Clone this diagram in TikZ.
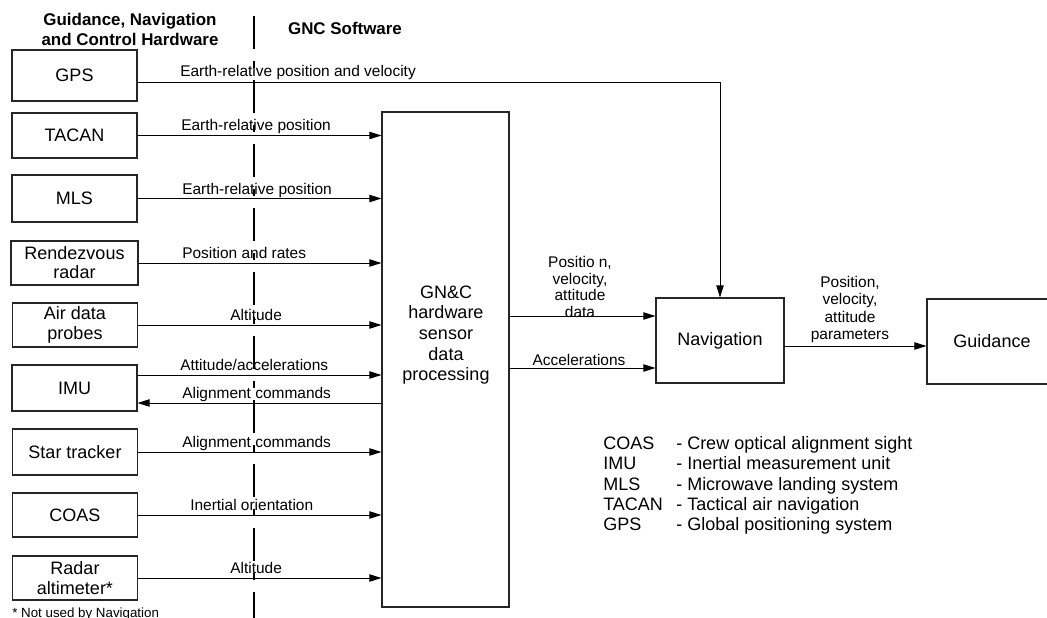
\documentclass[tikz,border=0pt]{standalone}
\usepackage{fontspec}
\setmainfont{Liberation Sans}
\usetikzlibrary{arrows.meta,calc}
\begin{document}
\begin{tikzpicture}[x=0.75pt,y=-0.75pt,
  box/.style={draw=black!85, line width=0.8pt, inner sep=0pt, align=center,
    minimum width=93.75pt, font=\fontsize{13.5}{15}\selectfont},
  arr/.style={line width=0.75pt, -{Triangle[length=9pt,width=5.5pt]}},
  lbl/.style={inner sep=0pt, anchor=base west, font=\fontsize{11.6}{12.4}\selectfont},
  mlbl/.style={inner sep=0pt, align=center, font=\fontsize{11.6}{12.6}\selectfont},
  big/.style={inner sep=0pt, align=center, font=\fontsize{13.5}{15.5}\selectfont},
  head/.style={inner sep=0pt, align=center, font=\fontsize{12.7}{15}\selectfont\bfseries},
  divider/.style={line width=1.5pt, dash pattern=on 25pt off 9pt on 5pt off 9pt}]
\useasboundingbox (0,0) rectangle (1047,618);

% headers and divider
\node[head] (hw) at (130,29) {Guidance, Navigation\\and Control Hardware};
\node[head] (sw) at (345,28) {GNC Software};
\coordinate (dtop) at (254,16);
\coordinate (dbot) at (254,620);
\draw[divider] (dtop) -- (dbot);

% hardware boxes
\node[box, minimum height=38.25pt] (gps) at (74.5,75.5) {GPS};
\node[box, minimum height=33.75pt] (tacan) at (74.5,135.5) {TACAN};
\node[box, minimum height=35.25pt] (mls) at (74.5,198.5) {MLS};
\node[box, minimum width=95.25pt, minimum height=33pt, font=\fontsize{13.5}{14.3}\selectfont] (rdv) at (74.5,263) {Rendezvous\\radar};
\node[box, minimum height=33pt, font=\fontsize{13.5}{15.5}\selectfont] (air) at (75,325) {Air data\\probes};
\node[box, minimum height=34.5pt] (imu) at (74.5,388) {IMU};
\node[box, minimum height=34.5pt] (star) at (75,452) {Star tracker};
\node[box, minimum height=33pt] (coas) at (75,515) {COAS};
\node[box, minimum height=33pt, font=\fontsize{13.5}{15}\selectfont] (radalt) at (75,578) {Radar\\altimeter*};

% software boxes
\node[box, minimum width=95.25pt, minimum height=371.25pt] (gnc) at (445.5,359.5) {};
\node[big] (gnctext) at (446,335) {GN\&C\\hardware\\sensor\\data\\processing};
\node[box, minimum width=96pt, minimum height=63.75pt] (nav) at (720,340.5) {Navigation};
\node[box, minimum width=97.5pt, minimum height=63.75pt] (guid) at (992,341.5) {Guidance};

% GPS to navigation
\coordinate (gp) at ($(gps.east)+(0,6.5)$);
\draw[arr] (gp) -| (nav.north);
\node[lbl] (gpsl) at (180,76.5) {Earth-relative position and velocity};

% inputs to GN&C processing
\draw[arr] (tacan.east) -- (tacan.east -| gnc.west);
\node[lbl] (tacl) at (181,130.5) {Earth-relative position};
\draw[arr] (mls.east) -- (mls.east -| gnc.west);
\node[lbl] (mlsl) at (182,194) {Earth-relative position};
\draw[arr] (rdv.east) -- (rdv.east -| gnc.west);
\node[lbl] (rdvl) at (182,258) {Position and rates};
\draw[arr] (air.east) -- (air.east -| gnc.west);
\node[lbl] (airl) at (230,320) {Altitude};
\coordinate (imuA) at ($(imu.east)+(0,-13)$);
\coordinate (imuB) at ($(imu.east)+(0,15)$);
\draw[arr] (imuA) -- (imuA -| gnc.west);
\node[lbl] (imual) at (180,370) {Attitude/accelerations};
\draw[arr] (imuB -| gnc.west) -- (imuB);
\node[lbl] (imubl) at (182,398) {Alignment commands};
\draw[arr] (star.east) -- (star.east -| gnc.west);
\node[lbl] (starl) at (182,447) {Alignment commands};
\draw[arr] (coas.east) -- (coas.east -| gnc.west);
\node[lbl] (coasl) at (190,510) {Inertial orientation};
\draw[arr] (radalt.east) -- (radalt.east -| gnc.west);
\node[lbl] (radl) at (230,573) {Altitude};

% GN&C to navigation
\coordinate (n1) at ($(nav.west)+(0,-24.5)$);
\coordinate (n2) at ($(nav.west)+(0,27.5)$);
\draw[arr] (gnc.east |- n1) -- (n1);
\draw[arr] (gnc.east |- n2) -- (n2);
\node[mlbl] (n1l) at (580,287) {Positio n,\\velocity,\\attitude\\data};
\node[mlbl] (n2l) at (579,360) {Accelerations};

% navigation to guidance
\coordinate (ng) at ($(nav.east)+(0,5.5)$);
\draw[arr] (ng) -- (ng -| guid.west);
\node[mlbl, font=\fontsize{11.6}{13.2}\selectfont] (ngl) at (850,309.5) {Position,\\velocity,\\attitude\\parameters};

% legend
\node[inner sep=0pt, anchor=base west, font=\fontsize{13.5}{15.2}\selectfont] (legend) at (603,449.5)
{\begin{tabular}[t]{@{}p{54.75pt}@{}l@{}}
COAS & - Crew optical alignment sight\\
IMU & - Inertial measurement unit\\
MLS & - Microwave landing system\\
TACAN & - Tactical air navigation\\
GPS & - Global positioning system
\end{tabular}};

% footnote and page number
\node[inner sep=0pt, anchor=base west, font=\fontsize{10}{12}\selectfont] (foot) at (12,617) {* Not used by Navigation};
\node[inner sep=0pt, anchor=base west, font=\fontsize{10}{12}\selectfont] (page) at (1033,628) {45};
\end{tikzpicture}
\end{document}
